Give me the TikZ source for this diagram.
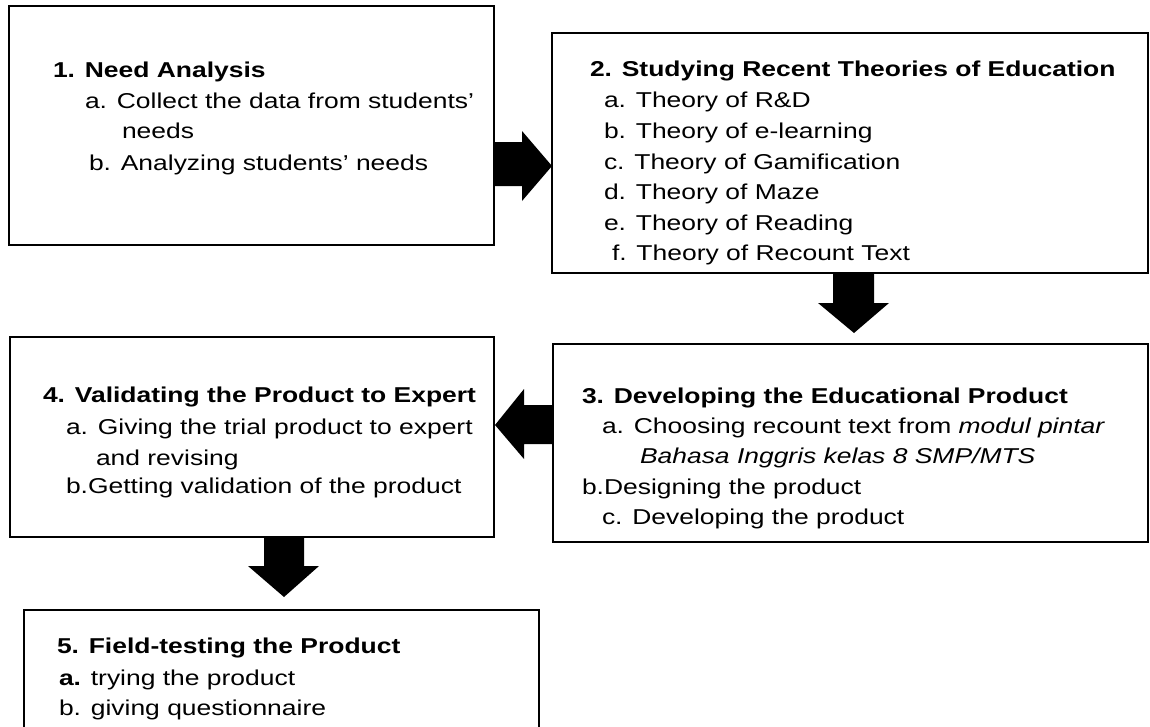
\documentclass[tikz,border=0pt]{standalone}
\usepackage{fontspec}
\setmainfont{Liberation Sans}[FakeStretch=1.23]
\usetikzlibrary{calc}
\begin{document}
\begin{tikzpicture}[x=1pt,y=-1pt,
  box/.style={draw=black,line width=1.6pt,fill=none,inner sep=0pt,outer sep=0pt,anchor=north west},
  txt/.style={anchor=base west,inner sep=0pt,outer sep=0pt,font=\fontsize{21.5}{26}\selectfont},
  blk/.style={fill=black,draw=none}]
\useasboundingbox (0,0) rectangle (1150,726);
% boxes
\node[box,minimum width=485pt,minimum height=239pt] (b1) at (9,6) {};
\node[box,minimum width=596pt,minimum height=240pt] (b2) at (552,33) {};
\node[box,minimum width=595pt,minimum height=198pt] (b3) at (553,344) {};
\node[box,minimum width=484pt,minimum height=200pt] (b4) at (10,337) {};
\node[box,minimum width=515pt,minimum height=130pt] (b5) at (24,610) {};
% block arrows
% 1 -> 2 (right)
\fill[blk] ($(b1.north east)+(0,136)$) -- ++(28,0) -- ++(0,-11) -- ($(b2.north west)+(0,133)$)
  -- ($(b1.north east)+(28,195)$) -- ++(0,-15) -- ($(b1.north east)+(0,180)$) -- cycle;
% 2 -> 3 (down)
\fill[blk] ($(b2.south west)+(281,0)$) -- ++(41,0) -- ++(0,30) -- ++(15,0) -- ($(b3.north west)+(301,-11)$)
  -- ($(b2.south west)+(266,30)$) -- ++(15,0) -- cycle;
% 3 -> 4 (left)
\fill[blk] ($(b3.north west)+(0,61)$) -- ++(-29,0) -- ++(0,-16) -- ($(b4.north east)+(1,88)$)
  -- ($(b3.north west)+(-29,115)$) -- ++(0,-15) -- ($(b3.north west)+(0,100)$) -- cycle;
% 4 -> 5 (down)
\fill[blk] ($(b4.south west)+(254,0)$) -- ++(40,0) -- ++(0,29) -- ++(15,0) -- ($(b5.north west)+(260,-13)$)
  -- ($(b4.south west)+(238,29)$) -- ++(16,0) -- cycle;
% box 1 text
\node[txt] (t1a) at (53,77) {\textbf{1. Need Analysis}};
\node[txt] (t1b) at (85,108) {a. Collect the data from students’};
\node[txt] (t1c) at (122,138) {needs};
\node[txt] (t1d) at (89,170) {b. Analyzing students’ needs};
% box 2 text
\node[txt] (t2a) at (590,76) {\textbf{2. Studying Recent Theories of Education}};
\node[txt] (t2b) at (604,107) {a. Theory of R\&D};
\node[txt] (t2c) at (604,138) {b. Theory of e-learning};
\node[txt] (t2d) at (604,169) {c. Theory of Gamification};
\node[txt] (t2e) at (604,199) {d. Theory of Maze};
\node[txt] (t2f) at (604,230) {e. Theory of Reading};
\node[txt] (t2g) at (612,260) {f. Theory of Recount Text};
% box 3 text
\node[txt] (t3a) at (582,403) {\textbf{3. Developing the Educational Product}};
\node[txt] (t3b) at (602,433) {a. Choosing recount text from \textit{modul pintar}};
\node[txt] (t3c) at (640,463) {\textit{Bahasa Inggris kelas 8 SMP/MTS}};
\node[txt] (t3d) at (582,494) {b.Designing the product};
\node[txt] (t3e) at (602,524) {c. Developing the product};
% box 4 text
\node[txt] (t4a) at (43,402) {\textbf{4. Validating the Product to Expert}};
\node[txt] (t4b) at (66,434) {a. Giving the trial product to expert};
\node[txt] (t4c) at (96,465) {and revising};
\node[txt] (t4d) at (66,493) {b.Getting validation of the product};
% box 5 text
\node[txt] (t5a) at (57,653) {\textbf{5. Field-testing the Product}};
\node[txt] (t5b) at (59,685) {\textbf{a.} trying the product};
\node[txt] (t5c) at (59,715) {b. giving questionnaire};
\end{tikzpicture}
\end{document}
